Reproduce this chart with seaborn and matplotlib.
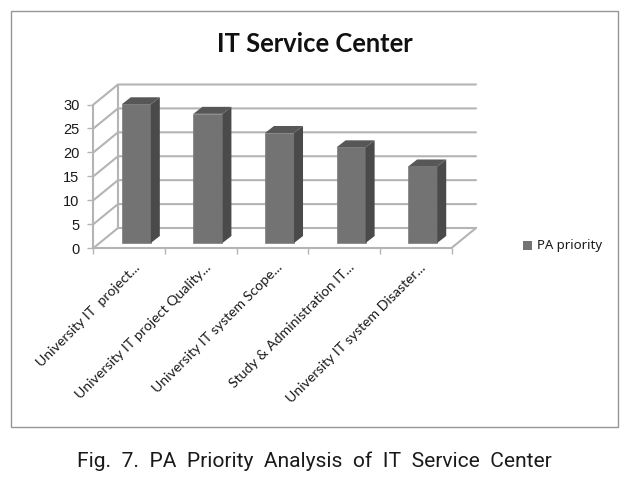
import matplotlib
matplotlib.use('Agg')
import matplotlib.pyplot as plt
import pandas as pd
import seaborn as sns
from matplotlib.patches import Polygon, Rectangle
from matplotlib.transforms import ScaledTranslation

categories = ['University IT  project...', 'University IT project Quality...',
              'University IT system Scope...', 'Study & Administration IT...',
              'University IT system Disaster...']
pa_priority = [29, 27, 23, 20, 16]
y_ticks = [0, 5, 10, 15, 20, 25, 30]

W, H = 638, 478
# the front edge of the floor, in pixels
LEFT, RIGHT, BOTTOM, TOP = 93.5, 451.5, 248, 104.5

sns.set_theme(style='white')
plt.rcParams['font.family'] = ['Lato', 'DejaVu Sans']

fig = plt.figure(figsize=(W / 100, H / 100), dpi=100)
ax = fig.add_axes([LEFT / W, 1 - BOTTOM / H, (RIGHT - LEFT) / W, (BOTTOM - TOP) / H])

df = pd.DataFrame({'Category': categories, 'PA priority': pa_priority})
sns.barplot(x='Category', y='PA priority', data=df, ax=ax, color='#737373',
            saturation=1, width=29 / 71.5, zorder=5, edgecolor='#7c7c7c', linewidth=0.5)
ax.set_xlim(-0.5, 4.5)
ax.set_ylim(0, 30)
ax.set_xlabel('')
ax.set_ylabel('')

# one pixel in data units
px = 5 / (RIGHT - LEFT)
py = 30 / (BOTTOM - TOP)
depth_x, depth_y = 24.5 * px, 20 * py
wall = '#b4b4b4'

# back wall, side wall, floor
for v in y_ticks:
    ax.plot([-0.5, -0.5 + depth_x, 4.5 + depth_x], [v, v + depth_y, v + depth_y],
            color=wall, lw=1.5, clip_on=False, zorder=1)
ax.plot([-0.5, -0.5], [0, 30], color=wall, lw=1.5, clip_on=False, zorder=1)
ax.plot([-0.5 + depth_x, -0.5 + depth_x], [depth_y, 30 + depth_y], color=wall, lw=1.5,
        clip_on=False, zorder=1)
ax.plot([-0.5, 4.5, 4.5 + depth_x], [0, 0, depth_y], color=wall, lw=1.5, clip_on=False, zorder=1)

# bars stand a little behind the front edge, with a side and top face
shift_x, shift_y = 7 * px, 5 * py
bar_dx, bar_dy = 9 * px, 7 * py
for bar in ax.patches:
    bar.set_x(bar.get_x() + shift_x)
    bar.set_y(bar.get_y() + shift_y)
    bar.set_clip_on(False)
    x0 = bar.get_x()
    x1 = x0 + bar.get_width()
    y0 = bar.get_y()
    y1 = y0 + bar.get_height()
    ax.add_patch(Polygon([(x1, y0), (x1 + bar_dx, y0 + bar_dy), (x1 + bar_dx, y1 + bar_dy), (x1, y1)],
                         color='#4a4a4a', lw=0, clip_on=False, zorder=5))
    ax.add_patch(Polygon([(x0, y1), (x0 + bar_dx, y1 + bar_dy), (x1 + bar_dx, y1 + bar_dy), (x1, y1)],
                         color='#575757', lw=0, clip_on=False, zorder=5))

sns.despine(ax=ax, left=True, bottom=True, right=True, top=True)
ax.set_yticks(y_ticks)
ax.tick_params(axis='y', left=True, length=4, width=1, color=wall, pad=6, labelsize=10.5,
               labelcolor='#1a1a1a')
for label in ax.get_yticklabels():
    label.set_family(['Liberation Sans', 'DejaVu Sans'])
ax.set_xticks([-0.5 + i for i in range(6)], minor=True)
ax.tick_params(axis='x', which='minor', length=4.5, width=1, color=wall, bottom=True)
ax.set_xticks(range(5))
ax.set_xticklabels(categories, rotation=45, ha='right', va='top', rotation_mode='anchor',
                   fontsize=10.2, color='#1a1a1a')
ax.tick_params(axis='x', which='major', length=0, pad=9.5)
label_shift = ScaledTranslation(4 / 100, 0, fig.dpi_scale_trans)
for label in ax.get_xticklabels():
    label.set_transform(label.get_transform() + label_shift)

fig.text(314.5 / W, 1 - 44 / H, 'IT Service Center', ha='center', va='center', fontsize=18.4,
         fontweight='bold', color='#111111')

# legend
fig.add_artist(Rectangle((523 / W, 1 - 249.5 / H), 9 / W, 9 / H, transform=fig.transFigure,
                         color='#737373', lw=0))
fig.text(537 / W, 1 - 245.5 / H, 'PA priority', ha='left', va='center', fontsize=9.5, color='#1a1a1a',
         family=['Noto Sans', 'DejaVu Sans'])

# chart frame
fig.add_artist(Rectangle((10.5 / W, 1 - 426.5 / H), 607 / W, 416 / H, transform=fig.transFigure,
                         fill=False, edgecolor='#969696', lw=1))

fig.text(314.5 / W, 1 - 461 / H, 'Fig.  7.  PA  Priority  Analysis  of  IT  Service  Center',
         ha='center', va='center', fontsize=15.1, color='#1a1a1a',
         family=['Roboto', 'DejaVu Sans'])

plt.savefig('out.png', dpi=100)
